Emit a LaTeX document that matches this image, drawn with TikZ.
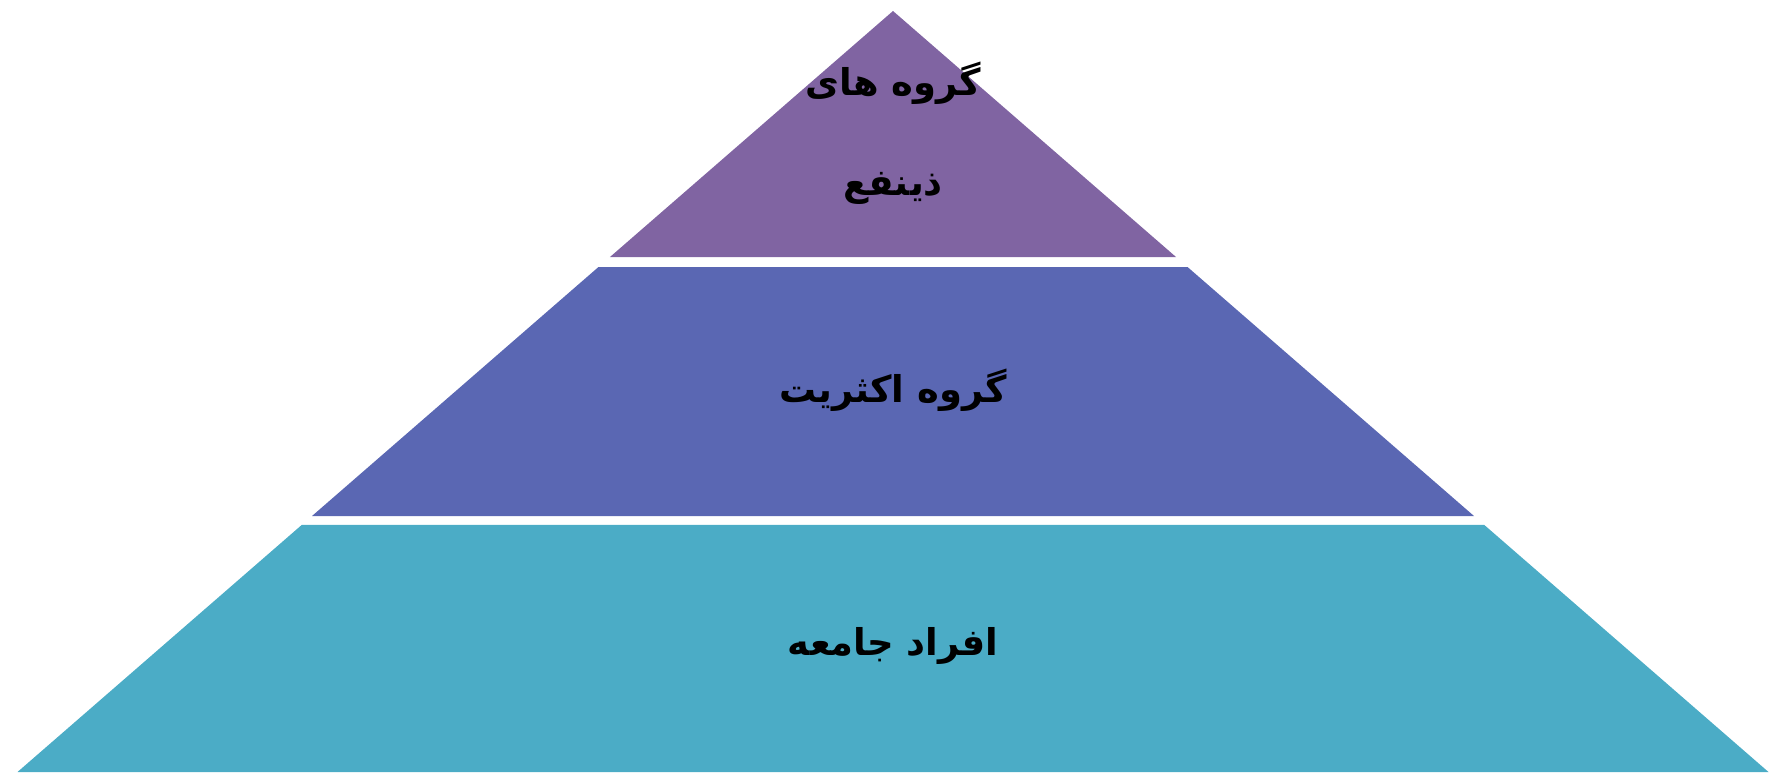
\documentclass[tikz,border=0pt]{standalone}
\usepackage{fontspec}
\usepackage{tikz}
\usetikzlibrary{calc}
\TeXXeTstate=1
\newfontfamily\arabicfont[Script=Arabic]{DejaVu Sans}
\definecolor{stakecol}{HTML}{8064A2}
\definecolor{majorcol}{HTML}{5A67B3}
\definecolor{publiccol}{HTML}{4BACC6}

\begin{document}
\begin{tikzpicture}[x=0.03cm,y=-0.03cm,
    label/.style={font=\arabicfont\bfseries\fontsize{31.5}{85}\selectfont, text=black, align=center, inner sep=0}]

\useasboundingbox (0,0) rectangle (1786,782);

%the pyramid
    \coordinate (apex) at (893,11);
    \coordinate (bl) at (17.5,772);
    \coordinate (br) at (1768.5,772);

%the layers
    \fill[stakecol] (apex) -- ($(apex)!0.3233!(bl)$) -- ($(apex)!0.3233!(br)$) -- cycle;
    \fill[majorcol] ($(apex)!0.3364!(bl)$) -- ($(apex)!0.6636!(bl)$) -- ($(apex)!0.6636!(br)$) -- ($(apex)!0.3364!(br)$) -- cycle;
    \fill[publiccol] ($(apex)!0.6754!(bl)$) -- (bl) -- (br) -- ($(apex)!0.6754!(br)$) -- cycle;

% place the labels
    \node[label] (stake) at (893,133) {\beginR گروه های\endR\\\beginR ذینفع\endR};
    \node[label] (major) at (893,390) {\beginR گروه اکثریت\endR};
    \node[label] (public) at (893,646) {\beginR افراد جامعه\endR};
\end{tikzpicture}
\end{document}
